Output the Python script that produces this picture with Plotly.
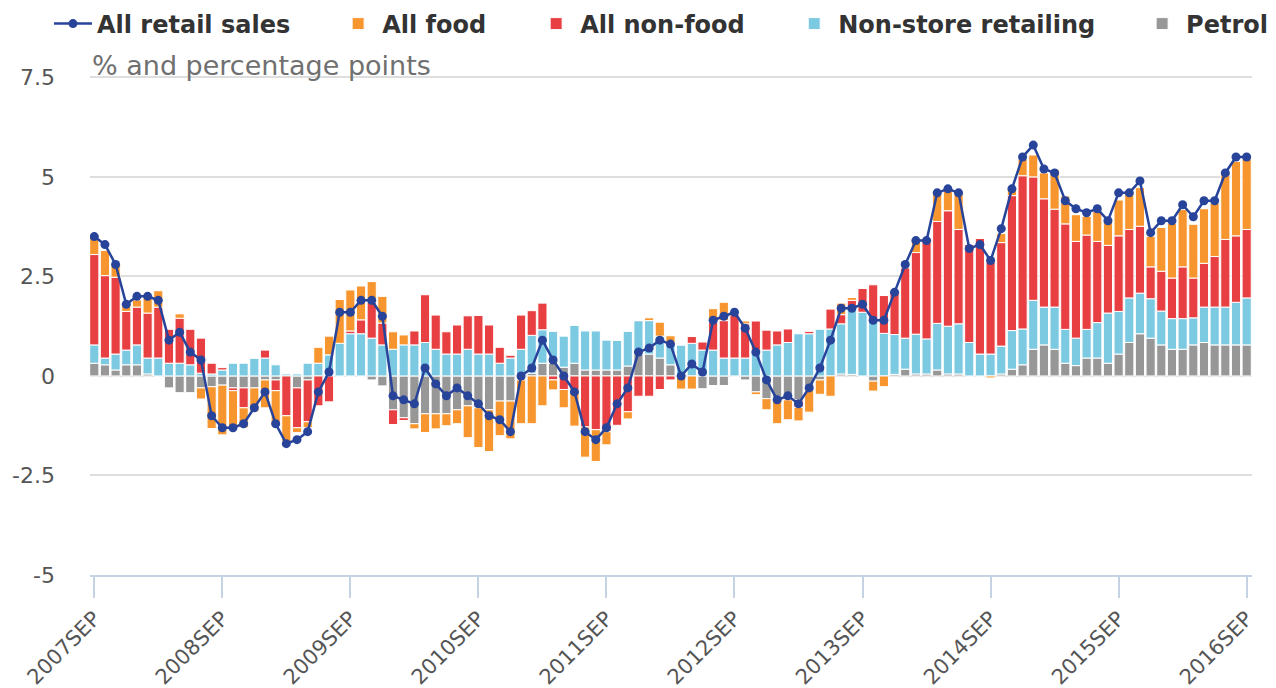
import plotly.graph_objects as go

# ---- data ----
years = list(range(2007, 2017))
mon = ["JAN", "FEB", "MAR", "APR", "MAY", "JUN", "JUL", "AUG", "SEP", "OCT", "NOV", "DEC"]
months = [f"{y}{m}" for y in range(2007, 2017) for m in mon]
months = months[months.index("2007SEP"):months.index("2016SEP") + 1]
tick_labels = [f"{y}SEP" for y in years]

petrol = [0.32, 0.28, 0.15, 0.28, 0.28, 0.05, 0, -0.3, -0.42, -0.42,
          -0.3, -0.27, -0.23, -0.3, -0.3, -0.3, -0.1, -0.1, 0, -0.3,
          -0.1, 0, 0, 0, 0, 0, -0.1, -0.25, -0.85, -1.05,
          -1.2, -0.95, -0.95, -0.95, -0.85, -0.75, -0.8, -0.85, -0.63, -0.63,
          -0.1, 0.07, 0.32, 0.32, 0.22, 0.32, 0.15, 0.15, 0.15, 0.15,
          0.25, 0.55, 0.55, 0.45, 0.28, 0, 0, -0.32, -0.24, -0.24,
          0, -0.1, -0.4, -0.57, -0.6, -0.6, -0.6, -0.36, -0.1, 0,
          0.05, 0.04, 0, -0.13, 0, 0.04, 0.17, 0.05, 0.05, 0.15,
          0.05, 0.05, 0, 0, 0, 0.05, 0.17, 0.28, 0.67, 0.78,
          0.67, 0.32, 0.26, 0.45, 0.45, 0.32, 0.55, 0.84, 1.06, 0.95,
          0.78, 0.67, 0.67, 0.78, 0.84, 0.78, 0.78, 0.78, 0.78]
non_store = [0.46, 0.17, 0.4, 0.37, 0.5, 0.4, 0.45, 0.32, 0.32, 0.28,
             0.07, 0.05, 0.15, 0.32, 0.32, 0.45, 0.45, 0.28, 0.05, 0.05,
             0.32, 0.32, 0.53, 0.82, 1.06, 1.06, 0.95, 0.78, 0.67, 0.78,
             0.78, 0.84, 0.67, 0.55, 0.55, 0.67, 0.55, 0.55, 0.32, 0.45,
             0.67, 0.95, 0.84, 0.8, 0.78, 0.95, 0.98, 0.98, 0.75, 0.75,
             0.87, 0.84, 0.84, 0.55, 0.55, 0.78, 0.82, 0.65, 0.65, 0.45,
             0.45, 0.45, 0.65, 0.65, 0.78, 0.84, 1.06, 1.06, 1.18, 1.18,
             1.26, 1.66, 1.6, 1.37, 1.07, 1.0, 0.78, 1.0, 0.88, 1.17,
             1.2, 1.26, 0.84, 0.55, 0.55, 0.7, 0.97, 0.9, 1.23, 0.95,
             1.06, 0.85, 0.69, 0.72, 0.89, 1.26, 1.07, 1.12, 1.02, 0.99,
             0.85, 0.77, 0.77, 0.68, 0.89, 0.95, 0.95, 1.07, 1.18]
non_food = [2.27, 2.07, 1.93, 0.97, 0.95, 1.13, 1.28, 0.86, 1.13, 0.9,
            0.88, 0.27, 0.06, -0.07, -0.5, 0, 0.2, -0.27, -1.0, -1.0,
            -1.05, -0.75, -0.65, 0, 0.07, 0.35, 0.9, 0.55, -0.37, -0.07,
            0.35, 1.2, 0.86, 0.56, 0.73, 0.84, 0.97, 0.73, 0.4, 0.07,
            0.86, 0.62, 0.67, -0.1, -0.34, -0.36, -1.28, -1.35, -1.4, -1.24,
            -0.9, -0.51, -0.51, -0.34, -0.1, 0, 0.17, 0.21, 0.7, 0.94,
            1.09, 0.86, 0.73, 0.5, 0.35, 0.34, -0.19, 0.06, 0, 0.5,
            0.23, 0.2, 0.6, 0.92, 0.95, 1.12, 1.77, 2.05, 2.54, 2.56,
            2.9, 2.37, 2.47, 2.91, 2.31, 2.6, 3.39, 3.85, 3.1, 2.72,
            2.46, 2.65, 2.43, 2.37, 2.04, 1.7, 1.9, 1.72, 1.68, 0.8,
            1.0, 1.02, 1.3, 1.0, 1.1, 1.27, 1.7, 1.67, 1.72]
food = [0.5, 0.63, 0.32, 0.2, 0.18, 0.38, 0.41, 0, 0.11, 0,
        -0.28, -1.05, -1.25, -0.94, -0.5, -0.6, -0.7, -0.85, -0.65, -0.12,
        -0.15, 0.4, 0.47, 1.1, 1.03, 0.85, 0.52, 0.67, 0.44, 0.25,
        -0.13, -0.47, -0.38, -0.3, -0.35, -0.8, -1.0, -1.05, -0.87, -0.95,
        -1.1, -1.2, -0.75, -0.25, -0.46, -0.9, -0.76, -0.8, -0.33, 0,
        -0.18, 0, 0.07, 0.35, 0.18, -0.33, -0.33, 0, 0.34, 0.46,
        0, 0.07, -0.07, -0.28, -0.6, -0.5, -0.34, -0.55, -0.36, -0.51,
        0.29, 0.07, 0, -0.25, -0.27, 0, 0, 0.3, 0, 0.7,
        0.52, 0.92, 0, 0, -0.05, 0.23, 0.17, 0.42, 0.55, 0.65,
        1.0, 0.7, 0.67, 0.47, 0.75, 0.6, 0.9, 0.93, 0.97, 0.77,
        1.1, 1.37, 1.44, 1.35, 1.37, 1.34, 1.7, 1.87, 1.78]
all_retail = [3.5, 3.3, 2.8, 1.8, 2.0, 2.0, 1.9, 0.9, 1.1, 0.6,
              0.4, -1.0, -1.3, -1.3, -1.2, -0.8, -0.4, -1.2, -1.7, -1.6,
              -1.4, -0.4, 0.1, 1.6, 1.6, 1.9, 1.9, 1.5, -0.5, -0.6,
              -0.7, 0.2, -0.2, -0.5, -0.3, -0.5, -0.7, -1.0, -1.1, -1.4,
              0.0, 0.2, 0.9, 0.4, 0.0, -0.4, -1.4, -1.6, -1.3, -0.7,
              -0.3, 0.6, 0.7, 0.9, 0.8, 0.0, 0.3, 0.1, 1.4, 1.5,
              1.6, 1.2, 0.6, -0.1, -0.6, -0.5, -0.7, -0.3, 0.2, 0.9,
              1.7, 1.7, 1.8, 1.4, 1.4, 2.1, 2.8, 3.4, 3.4, 4.6,
              4.7, 4.6, 3.2, 3.3, 2.9, 3.7, 4.7, 5.5, 5.8, 5.2,
              5.1, 4.4, 4.2, 4.1, 4.2, 3.9, 4.6, 4.6, 4.9, 3.6,
              3.9, 3.9, 4.3, 4.0, 4.4, 4.4, 5.1, 5.5, 5.5]

y_ticks = [-5, -2.5, 0, 2.5, 5, 7.5]
y_tick_text = ["-5", "-2.5", "0", "2.5", "5", "7.5"]

# ---- styles ----
C_FOOD = "#F7962E"
C_NONFOOD = "#E84042"
C_NONSTORE = "#7CCAE2"
C_PETROL = "#979797"
C_LINE = "#27449A"
AXIS_BLUE = "#C5D3E4"
GRID = "#DEDEDE"

fig = go.Figure()
bar_line = dict(color="white", width=1)
fig.add_trace(go.Bar(x=months, y=petrol, name="Petrol", legend="legend5",
                     marker=dict(color=C_PETROL, line=bar_line)))
fig.add_trace(go.Bar(x=months, y=non_store, name="Non-store retailing", legend="legend4",
                     marker=dict(color=C_NONSTORE, line=bar_line)))
fig.add_trace(go.Bar(x=months, y=non_food, name="All non-food", legend="legend3",
                     marker=dict(color=C_NONFOOD, line=bar_line)))
fig.add_trace(go.Bar(x=months, y=food, name="All food", legend="legend2",
                     marker=dict(color=C_FOOD, line=bar_line)))
fig.add_trace(go.Scatter(x=months, y=all_retail, name="All retail sales", mode="lines+markers",
                         legend="legend", line=dict(color=C_LINE, width=2.5),
                         marker=dict(color=C_LINE, size=9)))

legend_font = dict(family="DejaVu Sans", size=24, color="#333333", weight="bold")


def legend_at(xpos):
    return dict(orientation="h", x=xpos, xanchor="left", y=1.102, yanchor="middle",
                font=legend_font, itemwidth=38, bgcolor="rgba(0,0,0,0)")


fig.update_layout(
    width=1268, height=680,
    margin=dict(l=82, r=24, t=67, b=113, autoexpand=False),
    barmode="relative", bargap=0.14,
    plot_bgcolor="white", paper_bgcolor="white",
    font=dict(family="DejaVu Sans", color="#555555"),
    showlegend=True,
    legend=legend_at(-0.0353),
    legend2=legend_at(0.2101),
    legend3=legend_at(0.3805),
    legend4=legend_at(0.6026),
    legend5=legend_at(0.9020),
    annotations=[dict(text="% and percentage points", xref="paper", yref="paper", x=0, y=1,
                      xanchor="left", yanchor="bottom", yshift=-8, showarrow=False,
                      font=dict(family="DejaVu Sans", size=27, color="#707070"))],
)

fig.update_xaxes(type="category", range=[-0.4, 108.5], tickmode="array", tickvals=tick_labels,
                 ticktext=tick_labels, tickangle=-45, ticks="outside", ticklen=21, tickwidth=2,
                 tickcolor=AXIS_BLUE, showline=True, linecolor=AXIS_BLUE, linewidth=2,
                 showgrid=False, tickfont=dict(size=21, color="#555555"))
fig.update_yaxes(range=[-5, 7.56], tickmode="array", tickvals=y_ticks, ticktext=y_tick_text,
                 showgrid=True, gridcolor=GRID, gridwidth=2, zeroline=True, zerolinecolor=GRID,
                 zerolinewidth=2, showline=False, ticks="", ticklabelstandoff=34,
                 tickfont=dict(size=22, color="#555555"))

fig.write_html("out.html")
